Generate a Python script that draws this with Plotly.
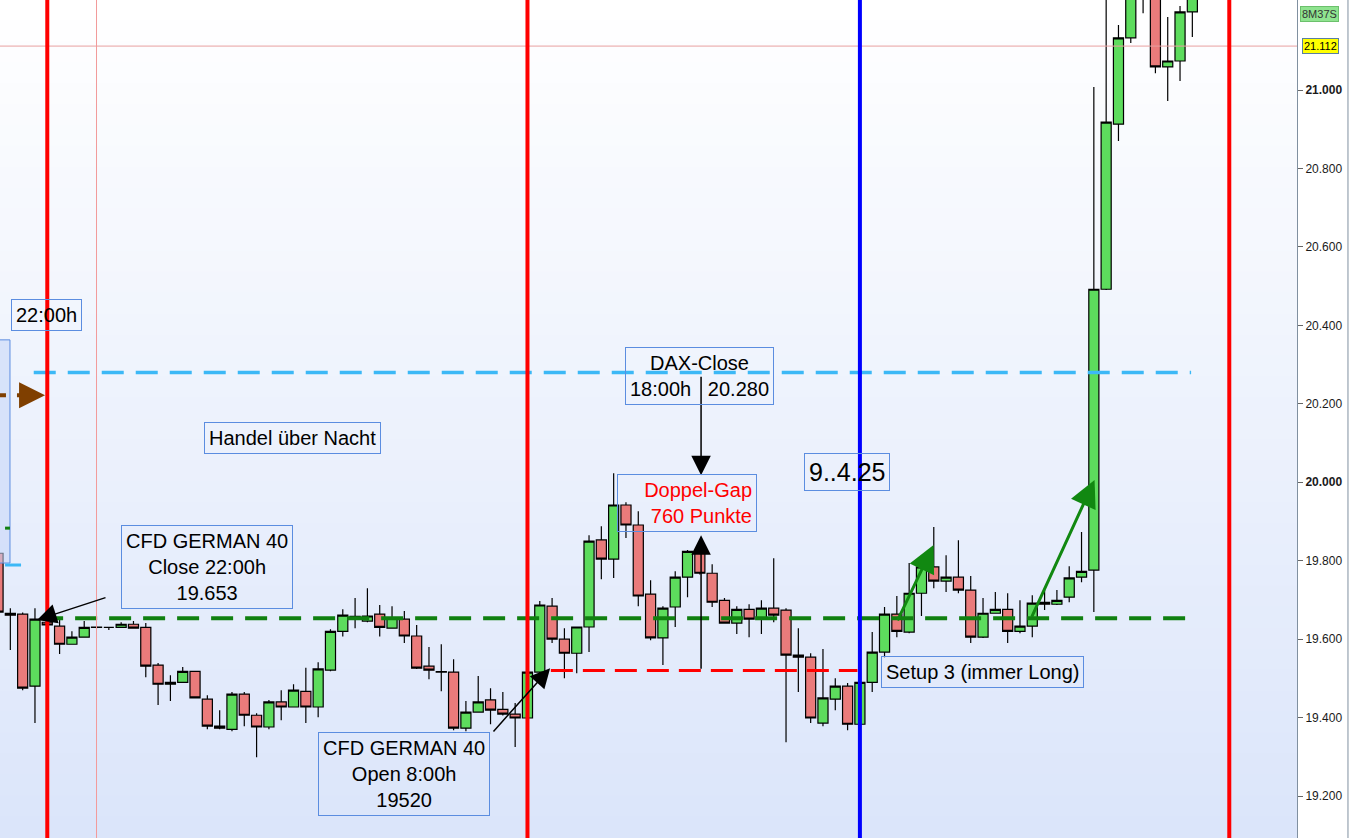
import plotly.graph_objects as go

# 15-minute candles, numbered left to right
candle_idx = list(range(98))

open_ = [19819, 19666, 19664, 19480, 19643, 19633, 19587, 19605, 19630, 19630,
         19630, 19638, 19630, 19534, 19485, 19490, 19518, 19447, 19378, 19370,
         19460, 19406, 19376, 19440, 19427, 19467, 19427, 19521, 19620, 19656,
         19646, 19664, 19628, 19651, 19608, 19531, 19516, 19516, 19373, 19414,
         19445, 19421, 19409, 19399, 19516, 19684, 19600, 19564, 19631, 19853,
         19804, 19942, 19891, 19715, 19603, 19682, 19758, 19824, 19768, 19699,
         19641, 19676, 19651, 19679, 19674, 19559, 19554, 19386, 19447, 19480,
         19383, 19490, 19567, 19664, 19618, 19717, 19784, 19748, 19758, 19725,
         19605, 19666, 19676, 19620, 19633, 19694, 19689, 19707, 19758, 19776,
         20492, 20913, 21133, 21300, 21260, 21059, 21074, 21199]

high = [19830, 19679, 19668, 19679, 19650, 19656, 19620, 19646, 19633, 19631,
        19643, 19646, 19641, 19539, 19508, 19529, 19518, 19457, 19419, 19465,
        19465, 19411, 19445, 19470, 19485, 19527, 19541, 19625, 19676, 19705,
        19730, 19687, 19684, 19672, 19636, 19580, 19587, 19549, 19442, 19506,
        19475, 19465, 19437, 19520, 19697, 19705, 19628, 19631, 19865, 19888,
        20023, 19949, 19926, 19750, 19684, 19773, 19827, 19830, 19791, 19705,
        19684, 19689, 19699, 19806, 19679, 19628, 19564, 19575, 19500, 19488,
        19493, 19618, 19682, 19710, 19794, 19796, 19886, 19814, 19852, 19761,
        19705, 19720, 19717, 19699, 19712, 19725, 19725, 19786, 19873, 21008,
        21300, 21166, 21280, 21330, 21280, 21186, 21214, 21260]

low = [19655, 19572, 19470, 19386, 19632, 19562, 19587, 19605, 19627, 19623,
       19630, 19628, 19503, 19432, 19442, 19490, 19450, 19370, 19370, 19365,
       19378, 19299, 19370, 19393, 19427, 19386, 19401, 19518, 19607, 19628,
       19643, 19607, 19628, 19590, 19524, 19498, 19467, 19368, 19365, 19414,
       19383, 19405, 19325, 19399, 19508, 19590, 19500, 19513, 19567, 19753,
       19756, 19858, 19684, 19597, 19534, 19631, 19707, 19765, 19682, 19641,
       19613, 19605, 19613, 19643, 19337, 19465, 19386, 19378, 19419, 19368,
       19383, 19465, 19554, 19605, 19615, 19659, 19730, 19720, 19717, 19590,
       19603, 19666, 19590, 19615, 19605, 19674, 19687, 19694, 19745, 19669,
       20490, 20870, 21120, 21196, 21043, 20972, 21023, 21135]

close = [19669, 19661, 19475, 19651, 19636, 19587, 19605, 19630, 19631, 19630,
         19638, 19628, 19531, 19485, 19490, 19518, 19450, 19378, 19373, 19460,
         19406, 19376, 19440, 19427, 19470, 19427, 19524, 19620, 19661, 19658,
         19659, 19630, 19654, 19608, 19526, 19521, 19517, 19373, 19414, 19440,
         19419, 19409, 19399, 19516, 19687, 19600, 19564, 19631, 19850, 19804,
         19942, 19891, 19710, 19603, 19679, 19758, 19824, 19768, 19694, 19641,
         19676, 19651, 19679, 19661, 19559, 19554, 19399, 19450, 19480, 19383,
         19490, 19567, 19664, 19620, 19717, 19784, 19748, 19758, 19725, 19605,
         19666, 19676, 19620, 19633, 19692, 19689, 19699, 19756, 19773, 20492,
         20918, 21133, 21260, 21280, 21059, 21074, 21199, 21240]

# key levels
dax_close = 20280
cfd_close = 19653
cfd_open = 19520
last_price = 21112

# session markers (candle positions)
red_lines = [4, 43, 100]
blue_line = 70
thin_line = 8

y_ticks = [19200, 19400, 19600, 19800, 20000, 20200, 20400, 20600, 20800, 21000]


def de_num(v):
    return f"{v:,}".replace(",", ".")


y_ticktext = [f"<b>{de_num(v)}</b>" if v % 1000 == 0 else de_num(v) for v in y_ticks]

GREEN = "#5ddc5d"
RED = "#ea7b7b"
BOX = "#5b8de0"
FONT = "Liberation Sans, Arial, sans-serif"

fig = go.Figure(go.Candlestick(
    x=candle_idx, open=open_, high=high, low=low, close=close,
    increasing=dict(fillcolor=GREEN, line=dict(color="black", width=1.2)),
    decreasing=dict(fillcolor=RED, line=dict(color="black", width=1.2)),
    whiskerwidth=0,
    hoverinfo="skip",
))

# background gradient (white at top -> light blue at bottom)
n_bands = 40
top, bottom = (255, 255, 255), (219, 229, 250)
for k in range(n_bands):
    t = (k + 0.5) / n_bands
    c = tuple(round(top[j] + (bottom[j] - top[j]) * t) for j in range(3))
    fig.add_shape(type="rect", xref="paper", yref="paper", x0=0, x1=1,
                  y0=1 - (k + 1) / n_bands, y1=1 - k / n_bands + 0.001,
                  fillcolor=f"rgb{c}", line_width=0, layer="below")

# partially visible box on the left edge
fig.add_shape(type="rect", x0=-2, x1=0.97, y0=19794, y1=20363,
              fillcolor="rgba(196,214,248,0.55)", line=dict(color=BOX, width=1))
fig.add_shape(type="line", x0=0.57, x1=1.87, y0=19789, y1=19789,
              line=dict(color="#3cb8f6", width=3))
fig.add_shape(type="line", x0=0.57, x1=0.97, y0=19883, y1=19883,
              line=dict(color="#108010", width=3))

# last price line
fig.add_shape(type="line", xref="paper", x0=0, x1=1, y0=last_price, y1=last_price,
              line=dict(color="#e8a0a0", width=1))

# horizontal levels
fig.add_shape(type="line", x0=2.9, x1=96.9, y0=dax_close, y1=dax_close,
              line=dict(color="#3cb8f6", width=3.5, dash="22px,12px"))
fig.add_shape(type="line", x0=3.5, x1=96.9, y0=cfd_close, y1=cfd_close,
              line=dict(color="#108010", width=4, dash="22px,12px"))
fig.add_shape(type="line", x0=44.9, x1=69.8, y0=cfd_open, y1=cfd_open,
              line=dict(color="red", width=3, dash="22px,10px"))

# vertical session lines
fig.add_shape(type="line", yref="paper", x0=thin_line, x1=thin_line, y0=0, y1=1,
              line=dict(color="#f29a9a", width=1))
for xv in red_lines:
    fig.add_shape(type="line", yref="paper", x0=xv, x1=xv, y0=0, y1=1,
                  line=dict(color="red", width=4))
fig.add_shape(type="line", yref="paper", x0=blue_line, x1=blue_line, y0=0, y1=1,
              line=dict(color="blue", width=4))

# brown dashed arrow on the left
fig.add_shape(type="line", x0=-0.33, x1=2.4, y0=20222, y1=20222,
              line=dict(color="#7f3f00", width=4, dash="12px,11px"))


def arrow(x0, y0, x1, y1, color="black", width=1.5, size=2.6):
    fig.add_annotation(x=x1, y=y1, ax=x0, ay=y0, axref="x", ayref="y", text="",
                       showarrow=True, arrowhead=2, arrowsize=size,
                       arrowwidth=width, arrowcolor=color, standoff=0)


def note(text, x, y, size=20, color="black", **kw):
    fig.add_annotation(x=x, y=y, text=text, showarrow=False,
                       font=dict(size=size, color=color, family=FONT),
                       bordercolor=BOX, borderwidth=1, borderpad=4,
                       bgcolor="rgba(0,0,0,0)", **kw)


arrow(2.3, 20222, 3.82, 20222, color="#7f3f00", width=4, size=1.3)
arrow(8.85, 19707, 3.17, 19649)
arrow(40.13, 19361, 44.84, 19526)
arrow(57.1, 20273, 57.1, 20018)
arrow(57.1, 19521, 57.1, 19865)
arrow(73.0, 19644, 75.98, 19840, color="#118811", width=3, size=1.8)
arrow(83.9, 19653, 89.06, 20006, color="#118811", width=3, size=1.8)

note("22:00h", 3.94, 20426)
note("Handel über Nacht", 23.93, 20114)
note("CFD GERMAN 40<br>Close 22:00h<br>19.653", 16.98, 19785)
note("CFD GERMAN 40<br>Open 8:00h<br>19520", 32.98, 19255)
note("DAX-Close<br>18:00h\u00a0\u00a0 20.280", 56.99, 20271)
note("Doppel-Gap<br>760 Punkte", 55.97, 19948, color="red", width=130, align="right")
note("9..4.25", 68.93, 20027, size=25)
note("Setup 3 (immer Long)", 79.93, 19515)

# price labels on the right axis
fig.add_annotation(xref="paper", x=1.0025, xanchor="left", y=21194, text="8M37S",
                   showarrow=False, font=dict(size=11, color="#333", family=FONT),
                   bgcolor="#8fe38f", bordercolor="#6cc06c", borderwidth=1, borderpad=1)
fig.add_annotation(xref="paper", x=1.0035, xanchor="left", y=last_price,
                   text=de_num(last_price),
                   showarrow=False, font=dict(size=11, color="black", family=FONT),
                   bgcolor="#ffff00", bordercolor="#5a7fa0", borderwidth=1, borderpad=1)

fig.add_shape(type="line", xref="paper", yref="paper", x0=1.0393, x1=1.0393, y0=0, y1=1,
              line=dict(color="#8090a0", width=1))

fig.update_layout(
    width=1349, height=838,
    margin=dict(l=0, r=52, t=0, b=0),
    paper_bgcolor="white",
    plot_bgcolor="#eef2fc",
    showlegend=False,
    boxgap=0.18,
    boxgroupgap=0,
    font=dict(family=FONT, color="#1a1a1a"),
    xaxis=dict(range=[0.16, 105.5], visible=False, rangeslider=dict(visible=False),
               fixedrange=True),
    yaxis=dict(range=[19093, 21229.5], side="right", tickvals=y_ticks,
               ticktext=y_ticktext, tickfont=dict(size=12, family=FONT, color="#1a1a1a"),
               ticks="outside", ticklen=5, tickcolor="#666", showgrid=False,
               zeroline=False, showline=True, linecolor="#8090a0", linewidth=1,
               fixedrange=True),
)

fig.write_html("out.html", config={"displayModeBar": False},
               post_script="document.body.style.margin = '0px';")
